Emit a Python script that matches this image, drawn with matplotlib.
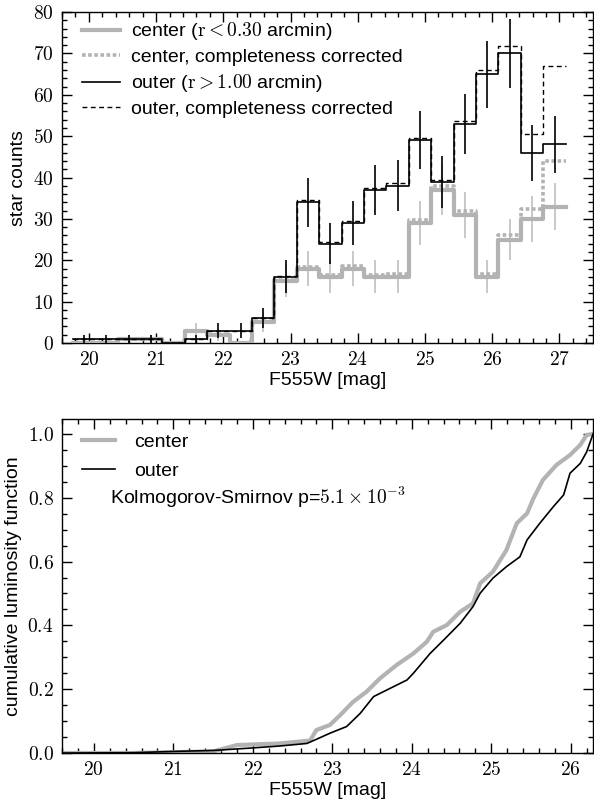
import numpy as np
import matplotlib
matplotlib.use("Agg")
import matplotlib.pyplot as plt
from matplotlib.ticker import MultipleLocator, FuncFormatter

plt.rcParams['font.family'] = ['Liberation Sans', 'DejaVu Sans']
plt.rcParams['mathtext.fontset'] = 'cm'
plt.rcParams['font.size'] = 14

# histogram binning (F555W magnitudes)
bin_lo = 19.76
bin_width = 1.0 / 3.0
n_bins = 22

center_counts = [0, 0, 1, 1, 0, 3, 2, 0, 5, 15, 18, 16, 18, 16, 16, 29, 37, 31, 16, 25, 30, 33]
center_corrected = [0, 0, 1, 1, 0, 3, 2, 0, 5, 15.3, 18.4, 16.4, 18.5, 16.5, 16.6,
                    29.8, 38, 31.8, 16.6, 26, 32.4, 44]
outer_counts = [1, 1, 1, 1, 0, 1, 3, 3, 6, 16, 34, 24, 29, 37, 38, 49, 39, 53, 65, 70, 46, 48]
outer_corrected = [1, 1, 1, 1, 0, 1, 3, 3, 6, 16.2, 34.5, 24.4, 29.4, 37.6, 38.7,
                   49.6, 39.5, 53.7, 66, 71.7, 50.6, 67]

# cumulative luminosity functions
cum_center_mag = [19.6, 20.5, 21.5, 21.65, 21.8, 22.34, 22.72, 22.8, 22.97, 23.1, 23.26,
                  23.43, 23.6, 23.81, 24.02, 24.19, 24.27, 24.44, 24.61, 24.77, 24.86,
                  25.02, 25.19, 25.32, 25.45, 25.53, 25.65, 25.82, 25.99, 26.12, 26.2, 26.28]
cum_center_frac = [0.0, 0.0, 0.005, 0.015, 0.025, 0.03, 0.039, 0.072, 0.088, 0.119, 0.16,
                   0.192, 0.234, 0.276, 0.312, 0.349, 0.38, 0.401, 0.443, 0.469, 0.532,
                   0.568, 0.636, 0.72, 0.751, 0.798, 0.856, 0.903, 0.934, 0.966, 0.997, 1.0]
cum_outer_mag = [19.6, 20.5, 21.0, 21.5, 22.0, 22.34, 22.68, 22.8, 22.97, 23.18, 23.35,
                 23.52, 23.77, 23.94, 24.02, 24.23, 24.4, 24.61, 24.77, 24.86, 25.02,
                 25.19, 25.36, 25.45, 25.61, 25.78, 25.91, 25.99, 26.12, 26.2, 26.28]
cum_outer_frac = [0.0, 0.001, 0.005, 0.008, 0.016, 0.022, 0.03, 0.043, 0.062, 0.083, 0.124,
                  0.177, 0.208, 0.229, 0.25, 0.312, 0.354, 0.407, 0.459, 0.501, 0.548,
                  0.584, 0.615, 0.668, 0.72, 0.772, 0.809, 0.877, 0.908, 0.944, 1.0]

ks_text = r"Kolmogorov-Smirnov p=$5.1 \times 10^{-3}$"

gray = '#b3b3b3'
lightgray = '#c4c4c4'

edges = bin_lo + np.arange(n_bins + 1) * bin_width
centers = 0.5 * (edges[:-1] + edges[1:])


def stepped(values):
    return np.append(values, values[-1])


def style_axes(ax):
    ax.tick_params(which='both', direction='in', top=True, right=True,
                   labelsize=14, pad=6)
    ax.tick_params(which='major', length=7, width=1)
    ax.tick_params(which='minor', length=3.5, width=1)
    for s in ax.spines.values():
        s.set_linewidth(1.0)


fig = plt.figure(figsize=(5.94, 8.09), dpi=100)

# top panel: luminosity function histograms
ax1 = fig.add_axes([0.1044, 0.576, 0.894, 0.409])
c = np.array(center_counts, dtype=float)
o = np.array(outer_counts, dtype=float)
ax1.errorbar(centers, c, yerr=np.sqrt(c), fmt='none', ecolor=lightgray,
             elinewidth=1.3, capsize=0, zorder=1)
ax1.step(edges, stepped(center_corrected), where='post', color=gray, lw=2.6,
         linestyle=(0, (1.0, 0.7)), zorder=2,
         label='center, completeness corrected')
ax1.step(edges, stepped(center_counts), where='post', color=gray, lw=3.0, zorder=3,
         label=r'center ($\mathrm{r} < 0.30$ arcmin)')
ax1.step(edges, stepped(outer_corrected), where='post', color='k', lw=1.0,
         linestyle=(0, (3.5, 2.5)), zorder=4,
         label='outer, completeness corrected')
ax1.step(edges, stepped(outer_counts), where='post', color='k', lw=1.2, zorder=5,
         label=r'outer ($\mathrm{r} > 1.00$ arcmin)')
ax1.errorbar(centers, o, yerr=np.sqrt(o), fmt='none', ecolor='k',
             elinewidth=1.2, capsize=0, zorder=6)

h, l = ax1.get_legend_handles_labels()
order = [1, 0, 3, 2]
ax1.legend([h[i] for i in order], [l[i] for i in order], loc='upper left',
           bbox_to_anchor=(0.037, 0.975), frameon=False, borderpad=0,
           borderaxespad=0, handlelength=1.95, handletextpad=0.6,
           labelspacing=0.32, fontsize=14)

ax1.set_xlim(19.6, 27.5)
ax1.set_ylim(0, 80)
ax1.xaxis.set_major_locator(MultipleLocator(1))
ax1.xaxis.set_minor_locator(MultipleLocator(0.2))
ax1.yaxis.set_major_locator(MultipleLocator(10))
ax1.yaxis.set_minor_locator(MultipleLocator(2))
ax1.xaxis.set_major_formatter(FuncFormatter(lambda v, p: r'$%d$' % round(v)))
ax1.yaxis.set_major_formatter(FuncFormatter(lambda v, p: r'$%d$' % round(v)))
ax1.set_xlabel('F555W [mag]', fontsize=14, labelpad=2)
ax1.set_ylabel('star counts', fontsize=14, labelpad=4)
style_axes(ax1)

# bottom panel: cumulative luminosity functions
ax2 = fig.add_axes([0.1044, 0.0692, 0.894, 0.4129])
ax2.plot(cum_center_mag, cum_center_frac, color=gray, lw=3.0, label='center')
ax2.plot(cum_outer_mag, cum_outer_frac, color='k', lw=1.2, label='outer')
ax2.legend(loc='upper left', bbox_to_anchor=(0.037, 0.958), frameon=False,
           borderpad=0, borderaxespad=0, handlelength=1.7, handletextpad=1.0,
           labelspacing=0.62, fontsize=14)
ax2.text(20.2, 0.80, ks_text, fontsize=14, va='center', ha='left')

ax2.set_xlim(19.6, 26.28)
ax2.set_ylim(0, 1.047)
ax2.xaxis.set_major_locator(MultipleLocator(1))
ax2.xaxis.set_minor_locator(MultipleLocator(0.2))
ax2.yaxis.set_major_locator(MultipleLocator(0.2))
ax2.yaxis.set_minor_locator(MultipleLocator(0.05))
ax2.xaxis.set_major_formatter(FuncFormatter(lambda v, p: r'$%d$' % round(v)))
ax2.yaxis.set_major_formatter(FuncFormatter(lambda v, p: r'$%.1f$' % v))
ax2.set_xlabel('F555W [mag]', fontsize=14, labelpad=2)
ax2.set_ylabel('cumulative luminosity function', fontsize=14, labelpad=4)
style_axes(ax2)

fig.savefig('out.png', dpi=100)
